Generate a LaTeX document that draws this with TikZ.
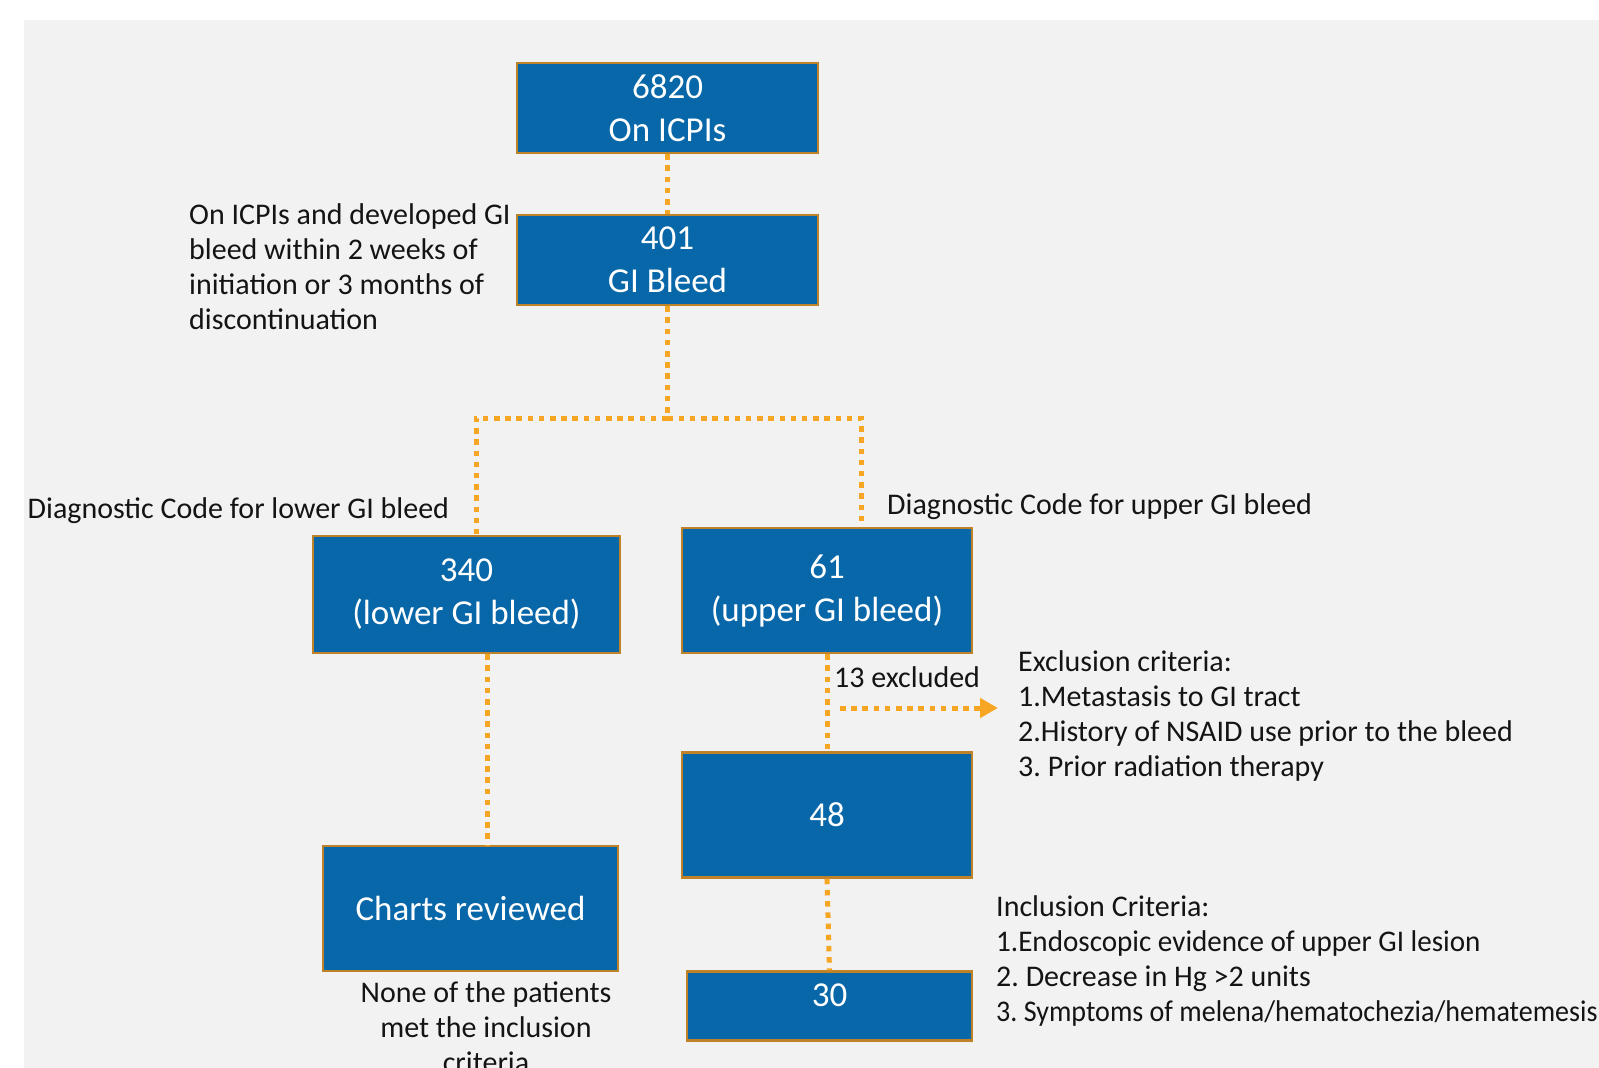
\documentclass[tikz,border=0pt]{standalone}
\usepackage{fontspec}
\setmainfont{Carlito}
\usetikzlibrary{arrows.meta}
\definecolor{bgcol}{RGB}{242,242,242}
\definecolor{boxblue}{RGB}{7,103,168}
\definecolor{boxedge}{RGB}{190,130,40}
\definecolor{dotor}{RGB}{246,166,35}
\definecolor{txt}{RGB}{20,20,20}
\frenchspacing
\begin{document}
\begin{tikzpicture}[x=1pt,y=-1pt,
  box/.style={draw=boxedge, line width=2.5pt, fill=boxblue, text=white, inner sep=0pt, align=center, font=\fontsize{35}{43}\selectfont},
  lbl/.style={inner sep=0pt, align=left, text=txt, font=\fontsize{30}{35}\selectfont},
  dotline/.style={draw=dotor, line width=5pt, dash pattern=on 5.5pt off 5.7pt}]
\useasboundingbox (0,0) rectangle (1599,1068);
\fill[bgcol] (24,20) rectangle (1599,1068);

% boxes
\node[box, minimum width=301pt, minimum height=90pt] (b6820) at (667.5,108) {6820\\On ICPIs};
\node[box, minimum width=301pt, minimum height=90pt] (b401) at (667.5,260) {401\\GI Bleed};
\node[box, minimum width=307pt, minimum height=117pt] (b340) at (466.5,594.5) {340\\(lower GI bleed)};
\node[box, minimum width=290pt, minimum height=125pt] (b61) at (827,590.5) {61\\(upper GI bleed)};
\node[box, minimum width=290pt, minimum height=125pt] (b48) at (827,815) {48};
\node[box, minimum width=295pt, minimum height=125pt] (charts) at (470.5,908.5) {Charts reviewed};
\node[box, minimum width=285pt, minimum height=69pt, text height=0pt, text depth=0pt] (b30) at (829.5,1006) {30};

% labels
\node[lbl, anchor=west] (note401) at (189,266.5) {On ICPIs and developed GI\\bleed within 2 weeks of\\initiation or 3 months of\\discontinuation};
\node[lbl, anchor=west] (lowerlbl) at (27.5,511) {Diagnostic Code for lower GI bleed};
\node[lbl, anchor=west] (upperlbl) at (887,507) {Diagnostic Code for upper GI bleed};
\node[lbl, anchor=west] (excl13) at (834,677) {13 excluded};
\node[lbl, anchor=west] (exclcrit) at (1018,716) {Exclusion criteria:\\1.Metastasis to GI tract\\2.History of NSAID use prior to the bleed\\3. Prior radiation therapy};
\node[lbl, anchor=west] (inclcrit) at (996,961) {Inclusion Criteria:\\\scalebox{0.97}[1]{1.Endoscopic evidence of upper GI lesion}\\2. Decrease in Hg >2 units\\\scalebox{0.935}[1]{3. Symptoms of melena/hematochezia/hematemesis}};
\node[lbl, align=center] (nonelbl) at (486,1027) {None of the patients\\met the inclusion\\criteria};

% connectors
\coordinate (jn) at (667.5,418);
\draw[dotline] (b6820.south) -- (b401.north);
\draw[dotline] (b401.south) -- (jn);
\draw[dotline] (jn) -| ([xshift=9.5pt]b340.north);
\draw[dotline] (jn) -| ([xshift=34pt]b61.north);
\draw[dotline] ([xshift=21pt]b340.south) -- ([xshift=21pt]b340.south |- charts.north);
\draw[dotline] (b61.south) -- (b48.north);
\draw[dotline] (b48.south) -- (b30.north);
\coordinate (exS) at (840,708);
\coordinate (exT) at (998,708);
\draw[dotline, -{Triangle[length=18pt,width=19pt]}] (exS) -- (exT);
\end{tikzpicture}
\end{document}
